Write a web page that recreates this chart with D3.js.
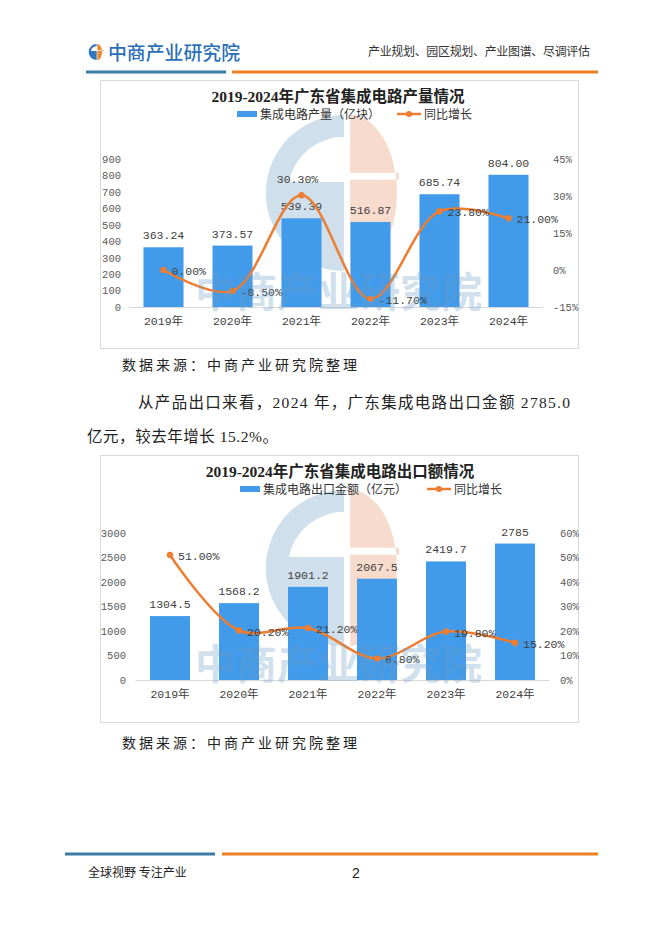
<!DOCTYPE html>
<html><head><meta charset="utf-8">
<script src="https://cdn.jsdelivr.net/npm/d3@7"></script>
<style>body{margin:0;background:#fff}svg{display:block}</style>
</head><body><svg id="c" width="662" height="936"></svg>
<script>
// ---- data ----
const years = ["2019年","2020年","2021年","2022年","2023年","2024年"];
const outputVal = [363.24, 373.57, 539.39, 516.87, 685.74, 804.00];
const outputLabels = ["363.24","373.57","539.39","516.87","685.74","804.00"];
const outputGrowth = [0.00, -8.50, 30.30, -11.70, 23.80, 21.00];
const exportVal = [1304.5, 1568.2, 1901.2, 2067.5, 2419.7, 2785];
const exportLabels = ["1304.5","1568.2","1901.2","2067.5","2419.7","2785"];
const exportGrowth = [51.00, 20.20, 21.20, 8.80, 19.80, 15.20];
const leftTicks1 = [0,100,200,300,400,500,600,700,800,900];
const rightTicks1 = [-15,0,15,30,45];
const leftTicks2 = [0,500,1000,1500,2000,2500,3000];
const rightTicks2 = [0,10,20,30,40,50,60];

const BLUE = "#419bea", ORANGE = "#ed7d31";
const MONO = "'Liberation Mono','Noto Sans CJK SC',monospace";
const CJK = "'Noto Sans CJK SC',sans-serif";
const SERIF = "'Liberation Serif','Noto Sans CJK SC',serif";
const svg = d3.select("#c");

// ---- header ----
function logoPath(cx, cy, R){
  const ri = R*0.72, sy = R*0.14, gap = R*0.04;
  const xl = cx - gap;
  const p = d3.path();
  // left half disk
  p.moveTo(xl, cy - R); p.arc(xl, cy, R, -Math.PI/2, Math.PI/2, true); p.closePath();
  // inner cutout (upper-left)
  const dx = Math.sqrt(ri*ri - sy*sy);
  p.moveTo(xl, cy - sy); p.lineTo(xl, cy - ri);
  p.arc(xl, cy, ri, -Math.PI/2, Math.PI + Math.asin(sy/ri), true);
  p.closePath();
  return p.toString();
}
function rightPath(cx, cy, R){
  const gap = R*0.04, rx = R*0.6, xr = cx + gap;
  let s = `M${xr},${cy-R} A${rx},${R} 0 0 1 ${xr},${cy+R} Z`;
  const y1 = cy - R*0.26, y2 = cy - R*0.17;
  s += ` M${xr},${y1} L${xr+rx+2},${y1} L${xr+rx+2},${y2} L${xr},${y2} Z`;
  return s;
}
svg.append("path").attr("d", logoPath(97,52,8)).attr("fill","#2f78c0").attr("fill-rule","evenodd");
svg.append("path").attr("d", rightPath(97,52,8)).attr("fill","#f08a2c").attr("fill-rule","evenodd");
svg.append("text").attr("x",108).attr("y",60).attr("textLength",132).attr("lengthAdjust","spacingAndGlyphs")
  .attr("font-family",CJK).attr("font-size",19).attr("font-weight",500).attr("fill","#2b6fb7").text("中商产业研究院");
svg.append("text").attr("x",368).attr("y",56).attr("textLength",222)
  .attr("font-family",CJK).attr("font-size",12).attr("fill","#333").text("产业规划、园区规划、产业图谱、尽调评估");
svg.append("line").attr("x1",86).attr("x2",226).attr("y1",72).attr("y2",72).attr("stroke","#3a7ca5").attr("stroke-width",3);
svg.append("line").attr("x1",232).attr("x2",598).attr("y1",72).attr("y2",72).attr("stroke","#f07f22").attr("stroke-width",3);

// ---- chart builder ----
function chart(o){
  const g = svg.append("g");
  g.append("rect").attr("x",o.box[0]+0.5).attr("y",o.box[1]+0.5).attr("width",o.box[2]).attr("height",o.box[3])
    .attr("fill","#fff").attr("stroke","#d9d9d9");
  // watermark logo
  g.append("path").attr("d", logoPath(o.wm[0], o.wm[1], 78)).attr("fill","#cfe0ec").attr("fill-rule","evenodd");
  g.append("path").attr("d", rightPath(o.wm[0], o.wm[1], 78)).attr("fill","#f7dbcd").attr("fill-rule","evenodd");
  // title
  g.append("text").attr("x",o.titlePos[0]).attr("y",o.titlePos[1]).attr("text-anchor","middle")
    .attr("font-family",SERIF).attr("font-weight",700).attr("font-size",15.5).attr("fill","#222").text(o.title);
  // legend
  const L = o.legend;
  g.append("rect").attr("x",L.bx).attr("y",L.y-3).attr("width",20).attr("height",6).attr("fill",BLUE);
  g.append("text").attr("x",L.bx+23).attr("y",L.y+4.5).attr("font-family",CJK).attr("font-size",12).attr("fill","#333").text(o.barName);
  g.append("line").attr("x1",L.lx).attr("x2",L.lx+24).attr("y1",L.y).attr("y2",L.y).attr("stroke",ORANGE).attr("stroke-width",2.5);
  g.append("circle").attr("cx",L.lx+12).attr("cy",L.y).attr("r",3).attr("fill",ORANGE);
  g.append("text").attr("x",L.lx+27).attr("y",L.y+4.5).attr("font-family",CJK).attr("font-size",12).attr("fill","#333").text("同比增长");

  const x = d3.scaleBand().domain(years).range(o.xr).paddingInner(0.42).paddingOuter(0.21);
  const yL = d3.scaleLinear().domain(o.ld).range(o.yr);
  const yR = d3.scaleLinear().domain(o.rd).range(o.yr);
  const bw = x.bandwidth();

  // axes
  const al = g.append("g").attr("transform",`translate(${o.lax},0)`)
    .call(d3.axisLeft(yL).tickValues(o.lt).tickSize(0).tickPadding(0).tickFormat(d3.format("d")));
  const ar = g.append("g").attr("transform",`translate(${o.rax},0)`)
    .call(d3.axisRight(yR).tickValues(o.rt).tickSize(0).tickPadding(0).tickFormat(d=>d+"%"));
  [al,ar].forEach(a=>{a.select(".domain").remove();
    a.selectAll("text").attr("font-family",MONO).attr("font-size",10.5).attr("fill","#595959");});
  const ab = g.append("g").attr("transform",`translate(0,${o.yr[0]+10})`)
    .call(d3.axisBottom(x).tickSize(0).tickPadding(0));
  ab.select(".domain").remove();
  ab.selectAll("text").attr("font-family",MONO).attr("font-size",11.5).attr("fill","#404040");

  // bars
  g.selectAll(".bar").data(o.vals).join("rect")
    .attr("x",(d,i)=>x(years[i])).attr("y",d=>yL(d)).attr("width",bw).attr("height",d=>yL(o.ld[0])-yL(d)).attr("fill",BLUE);
  // baseline
  g.append("line").attr("x1",o.xr[0]).attr("x2",o.xr[1]).attr("y1",o.yr[0]+0.5).attr("y2",o.yr[0]+0.5).attr("stroke","#d9d9d9");
  // bar labels
  g.selectAll(".bl").data(o.vals).join("text")
    .attr("x",(d,i)=>x(years[i])+bw/2).attr("y",d=>yL(d)-12).attr("dy","0.35em").attr("text-anchor","middle")
    .attr("font-family",MONO).attr("font-size",11.5).attr("fill","#404040").text((d,i)=>o.labels[i]);

  // line
  const pts = o.growth.map((v,i)=>[x(years[i])+bw/2, yR(v)]);
  g.append("path").attr("d", d3.line().curve(d3.curveCatmullRom.alpha(0.5))(pts))
    .attr("fill","none").attr("stroke",ORANGE).attr("stroke-width",2.5);
  g.selectAll(".pt").data(pts).join("circle").attr("cx",d=>d[0]).attr("cy",d=>d[1]).attr("r",3.2).attr("fill",ORANGE);
  g.selectAll(".gl").data(o.growth).join("text")
    .attr("x",(d,i)=> o.gpos[i]==="top" ? pts[i][0]-4 : pts[i][0]+8)
    .attr("y",(d,i)=> o.gpos[i]==="top" ? pts[i][1]-16 : pts[i][1]+1)
    .attr("dy","0.35em").attr("text-anchor",(d,i)=>o.gpos[i]==="top"?"middle":"start")
    .attr("font-family",MONO).attr("font-size",11.5).attr("fill","#404040").text(d=>d.toFixed(2)+"%");

  // watermark text
  g.append("text").attr("x",195).attr("y",o.wmText).attr("textLength",287).attr("lengthAdjust","spacingAndGlyphs")
    .attr("font-family",CJK).attr("font-weight",700).attr("font-size",41).attr("fill","#6a9cc4").attr("opacity",0.3)
    .text("中商产业研究院");
}

chart({
  box:[100,80,478,268], wm:[347,193], wmText:307,
  title:"2019-2024年广东省集成电路产量情况", titlePos:[338,102],
  legend:{bx:237, lx:397, y:114}, barName:"集成电路产量（亿块）",
  xr:[129,543], yr:[307,159], ld:[0,900], rd:[-15,45], lt:leftTicks1, rt:rightTicks1,
  lax:121, rax:553,
  vals:outputVal, labels:outputLabels, growth:outputGrowth,
  gpos:["right","right","top","right","right","right"]
});
chart({
  box:[100,455,478,267], wm:[347,568], wmText:679,
  title:"2019-2024年广东省集成电路出口额情况", titlePos:[340,477],
  legend:{bx:240, lx:427, y:489}, barName:"集成电路出口金额（亿元）",
  xr:[135.5,549.5], yr:[680,533], ld:[0,3000], rd:[0,60], lt:leftTicks2, rt:rightTicks2,
  lax:126, rax:560,
  vals:exportVal, labels:exportLabels, growth:exportGrowth,
  gpos:["right","right","right","right","right","right"]
});

// ---- body text ----
svg.append("text").attr("x",122).attr("y",370).attr("textLength",235)
  .attr("font-family",CJK).attr("font-size",14).attr("fill","#222").text("数据来源：中商产业研究院整理");
svg.append("text").attr("x",138).attr("y",408).attr("textLength",432)
  .attr("font-family",SERIF).attr("font-size",15.5).attr("fill","#222").text("从产品出口来看，2024 年，广东集成电路出口金额 2785.0");
svg.append("text").attr("x",87).attr("y",442).attr("textLength",191)
  .attr("font-family",SERIF).attr("font-size",15.5).attr("fill","#222").text("亿元，较去年增长 15.2%。");
svg.append("text").attr("x",122).attr("y",748).attr("textLength",235)
  .attr("font-family",CJK).attr("font-size",14).attr("fill","#222").text("数据来源：中商产业研究院整理");

// ---- footer ----
svg.append("line").attr("x1",65).attr("x2",215).attr("y1",854).attr("y2",854).attr("stroke","#3a7ca5").attr("stroke-width",3);
svg.append("line").attr("x1",222).attr("x2",598).attr("y1",854).attr("y2",854).attr("stroke","#f07f22").attr("stroke-width",3);
svg.append("text").attr("x",88).attr("y",877).attr("font-family",CJK).attr("font-size",12).attr("fill","#222").text("全球视野 专注产业");
svg.append("text").attr("x",352).attr("y",878).attr("font-family","'Liberation Sans',sans-serif").attr("font-size",14).attr("fill","#222").text("2");
</script></body></html>
